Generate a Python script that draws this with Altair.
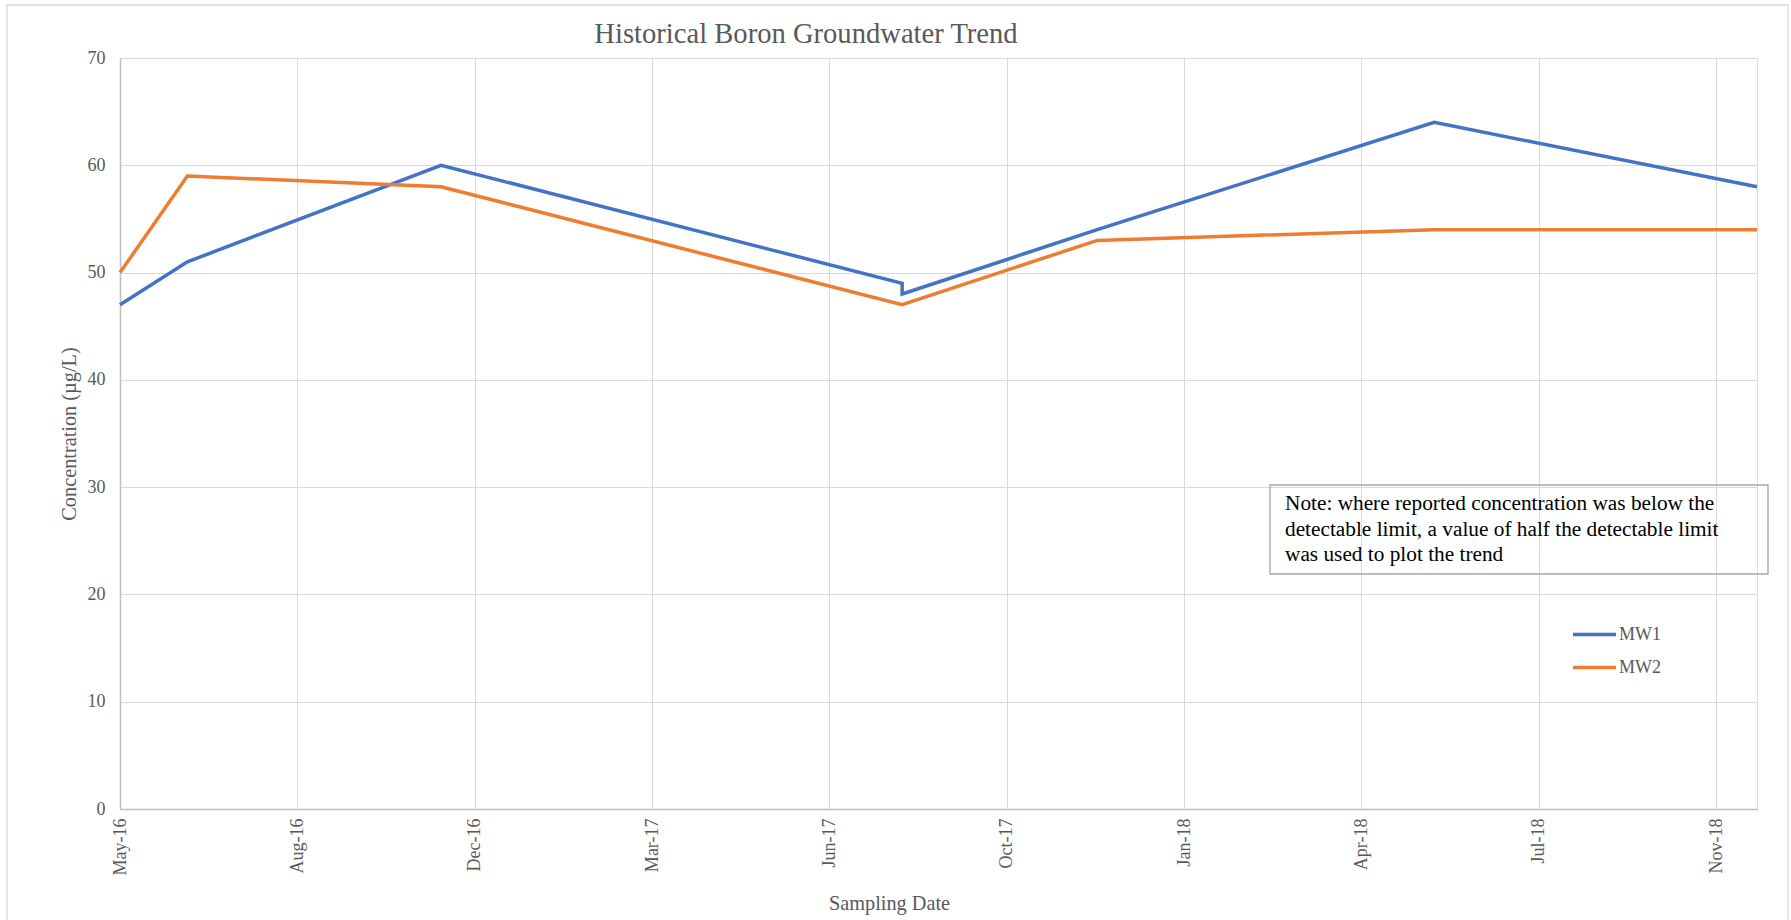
import altair as alt
import pandas as pd

# Boron concentrations (µg/L) at each monitoring well, by sampling date
mw1_dates = ["2016-05-20", "2016-06-27", "2016-11-17", "2017-08-04", "2017-08-04",
             "2017-11-22", "2018-05-31", "2018-11-29"]
mw1_values = [47, 51, 60, 49, 48, 54, 64, 58]

mw2_dates = ["2016-05-20", "2016-06-27", "2016-11-17", "2017-08-04",
             "2017-11-22", "2018-05-31", "2018-11-29"]
mw2_values = [50, 59, 58, 47, 53, 54, 54]

series_names = ["MW1", "MW2"]
series_colors = ["#4472C4", "#ED7D31"]

# date axis: 100-day major unit starting at the first sampling date
tick_dates = ["2016-05-20", "2016-08-28", "2016-12-06", "2017-03-16", "2017-06-24",
              "2017-10-02", "2018-01-10", "2018-04-20", "2018-07-29", "2018-11-06"]
axis_start = "2016-05-20"
axis_end = "2018-11-29"
y_ticks = [0, 10, 20, 30, 40, 50, 60, 70]

note_lines = [
    "Note: where reported concentration was below the",
    "detectable limit, a value of half the detectable limit",
    "was used to plot the trend",
]

FONT = "Liberation Serif"
GREY = "#595959"


def to_ms(s):
    return int(pd.Timestamp(s, tz="UTC").value // 10**6)


rows = []
for name, dates, values in (("MW1", mw1_dates, mw1_values), ("MW2", mw2_dates, mw2_values)):
    for i, (d, v) in enumerate(zip(dates, values)):
        rows.append({"series": name, "date": to_ms(d), "value": v, "seq": i})
df = pd.DataFrame(rows)

W, H = 1637, 751

lines = alt.Chart(df).mark_line(strokeWidth=3.5).encode(
    x=alt.X(
        "date:T",
        scale=alt.Scale(type="utc", domain=[to_ms(axis_start), to_ms(axis_end)], nice=False),
        axis=alt.Axis(
            values=[to_ms(t) for t in tick_dates],
            labelExpr="utcFormat(datum.value, '%b-%y')",
            labelAngle=270, labelAlign="right", labelBaseline="middle",
            labelPadding=9, ticks=False, tickSize=0,
            labelFlush=False, labelOverlap=False,
            labelFont=FONT, labelFontSize=18, labelColor=GREY,
            grid=True, gridColor="#D9D9D9", gridWidth=1,
            domainColor="#BFBFBF", domainWidth=1.5,
            title="Sampling Date", titleFont=FONT, titleFontSize=20.3,
            titleFontWeight="normal", titleColor=GREY,
            titleX=769, titleY=94, titleAlign="center", titleBaseline="middle",
        ),
    ),
    y=alt.Y(
        "value:Q",
        scale=alt.Scale(domain=[0, 70], nice=False),
        axis=alt.Axis(
            values=y_ticks, ticks=False, tickSize=0, labelPadding=15,
            labelFont=FONT, labelFontSize=18, labelColor=GREY,
            grid=True, gridColor="#D9D9D9", gridWidth=1,
            domainColor="#BFBFBF", domainWidth=1.5,
            title="Concentration (µg/L)", titleFont=FONT, titleFontSize=20.3,
            titleFontWeight="normal", titleColor=GREY, titleAngle=270,
            titleX=-51, titleY=375.5, titleAlign="center", titleBaseline="middle",
        ),
    ),
    color=alt.Color(
        "series:N",
        scale=alt.Scale(domain=series_names, range=series_colors),
        legend=alt.Legend(
            title=None, orient="none", legendX=1451, legendY=553,
            symbolType="stroke", symbolSize=1849, symbolStrokeWidth=3.5,
            labelFont=FONT, labelFontSize=18, labelColor=GREY, labelOffset=1,
            padding=0, rowPadding=0,
        ),
    ),
    order="seq:Q",
)

one = alt.Data(values=[{}])

# outer chart frame
frame = alt.Chart(one).mark_rect(fill=None, stroke="#D9D9D9", strokeWidth=1.3).encode(
    x=alt.value(-113), x2=alt.value(1668), y=alt.value(-53), y2=alt.value(875)
)

title = alt.Chart(one).mark_text(
    text="Historical Boron Groundwater Trend", font=FONT, fontSize=28.6,
    color=GREY, align="center", baseline="middle",
).encode(x=alt.value(686), y=alt.value(-24))

note_box = alt.Chart(one).mark_rect(fill=None, stroke="#A6A6A6", strokeWidth=1.3).encode(
    x=alt.value(1150), x2=alt.value(1648), y=alt.value(427), y2=alt.value(516)
)

note_text = alt.Chart(one).mark_text(
    text=note_lines, font=FONT, fontSize=21.3, color="#000000",
    align="left", baseline="middle", lineHeight=25.5,
).encode(x=alt.value(1165), y=alt.value(446))

chart = alt.layer(frame, lines, note_box, note_text, title).properties(
    width=W, height=H,
    autosize=alt.AutoSizeParams(type="none"),
    padding={"left": 120, "top": 58, "right": 34, "bottom": 111},
).configure_view(stroke=None).configure(background="white")

chart.save("out.html", embed_options={"renderer": "svg", "actions": False})
